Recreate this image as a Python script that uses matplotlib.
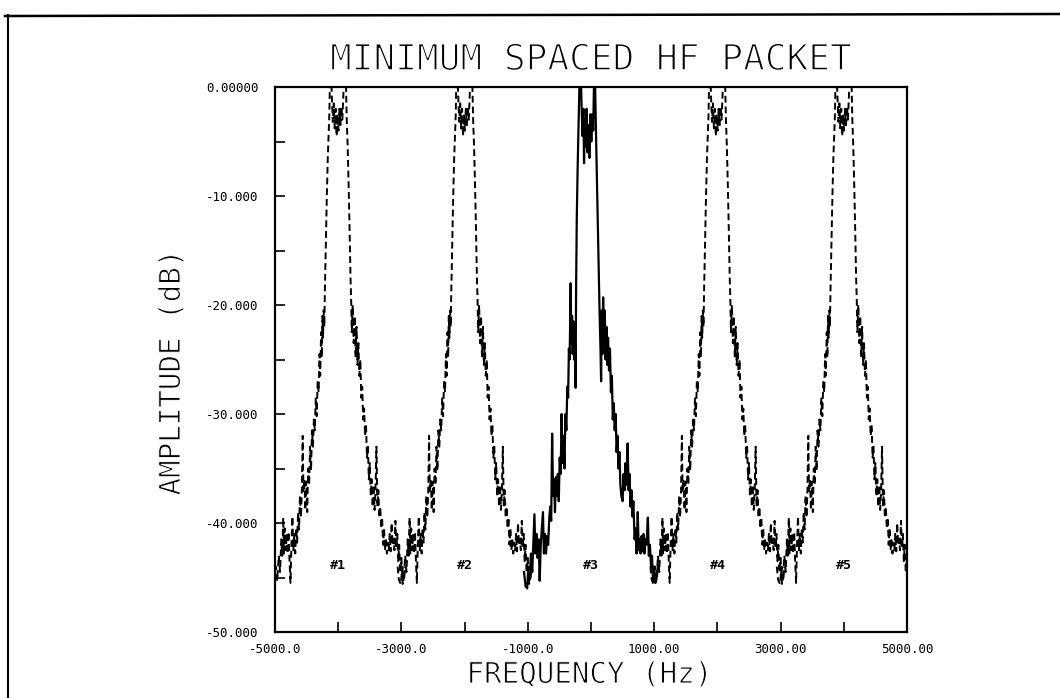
import numpy as np
import matplotlib
matplotlib.use("Agg")
import matplotlib.pyplot as plt
import matplotlib.patheffects as pe
from matplotlib.lines import Line2D

# packet centres (Hz) and their labels; packet #3 is drawn solid
packet_centers = [-4000, -2000, 0, 2000, 4000]
packet_labels = ["#1", "#2", "#3", "#4", "#5"]
solid_index = 2

# spectrum of one dashed packet, offset from its centre (Hz) -> dB
dashed_offset = [-1060, -1040, -1010, -985, -965, -940, -920, -900, -885, -870,
                 -860, -845, -830, -815, -800, -785, -770, -755, -740, -725,
                 -710, -695, -680, -665, -650, -635, -620, -605, -590, -575,
                 -562, -550, -535, -520, -505, -490, -475, -460, -445, -430,
                 -415, -400, -385, -370, -355, -340, -325, -310, -295, -285,
                 -270, -260, -250, -240, -230, -220, -210, -195, -180, -165,
                 -150, -140, -130, -115, -100, -85, -70, -55, -40, -25,
                 -10, 5, 20, 35, 50, 65, 80, 95, 110, 122,
                 135, 150, 165, 180, 195, 205, 215, 230, 245, 260,
                 275, 290, 305, 320, 335, 350, 365, 380, 395, 410,
                 425, 440, 455, 470, 485, 500, 515, 530, 545, 560,
                 575, 590, 605, 620, 635, 650, 665, 680, 695, 710,
                 725, 740, 755, 770, 785, 800, 815, 830, 845, 860,
                 875, 890, 905, 920, 935, 950, 965, 980, 1000, 1020,
                 1045, 1060]
dashed_db = [-44.0, -45.2, -45.6, -44.0, -45.3, -43.0, -44.5, -41.5, -43.0, -39.5,
             -42.8, -40.5, -42.5, -41.0, -42.8, -40.8, -43.5, -45.5, -42.0, -39.4,
             -42.5, -41.0, -42.8, -40.5, -41.8, -39.0, -40.6, -37.5, -39.5, -37.0,
             -32.0, -37.2, -36.0, -38.8, -36.2, -39.0, -35.0, -36.5, -33.0, -35.2,
             -31.5, -33.0, -30.5, -31.5, -28.5, -30.2, -27.0, -28.0, -24.5, -26.5,
             -22.5, -24.8, -21.0, -23.0, -20.5, -22.0, -18.5, -14.0, -10.0, -6.5,
             -4.0, -2.5, 1.0, 2.0, -1.0, -3.2, -1.5, -3.8, -2.0, -4.5,
             -2.5, -4.0, -2.0, -3.5, -1.8, -3.0, -1.0, 1.5, 2.0, 0.5,
             -3.0, -5.5, -9.0, -13.0, -17.5, -19.5, -22.5, -20.0, -23.5, -21.0,
             -24.8, -22.0, -25.5, -23.5, -26.5, -25.0, -28.5, -27.5, -30.5, -29.5,
             -32.0, -31.0, -34.0, -33.0, -36.0, -34.5, -37.5, -36.0, -38.5, -36.5,
             -38.8, -37.0, -33.0, -38.5, -37.0, -39.5, -38.5, -40.5, -39.5, -42.0,
             -40.5, -42.5, -41.5, -42.8, -41.8, -42.5, -41.0, -42.6, -40.0, -42.0,
             -41.5, -42.5, -39.8, -42.3, -41.0, -43.5, -42.0, -44.5, -43.2, -45.6,
             -45.0, -44.0]

# measured packet (solid), frequency (Hz) -> dB
solid_freq = [-1060, -1035, -1010, -990, -970, -950, -930, -912, -895, -880,
              -862, -845, -828, -812, -795, -778, -760, -745, -728, -712,
              -695, -678, -660, -645, -630, -615, -600, -585, -570, -555,
              -540, -525, -510, -495, -480, -465, -450, -435, -420, -405,
              -390, -375, -362, -350, -338, -322, -312, -300, -290, -278,
              -268, -255, -245, -235, -225, -210, -195, -180, -165, -150,
              -135, -120, -110, -100, -85, -70, -55, -40, -25, -10,
              5, 20, 35, 48, 60, 75, 95, 115, 135, 150,
              160, 170, 180, 192, 205, 218, 230, 245, 258, 270,
              285, 300, 315, 330, 345, 360, 375, 390, 405, 420,
              435, 450, 465, 480, 500, 515, 530, 545, 565, 580,
              595, 610, 625, 640, 655, 670, 690, 705, 720, 740,
              755, 770, 785, 800, 815, 830, 845, 860, 878, 900,
              915, 932, 950, 965, 982, 1000, 1020, 1045, 1060]
solid_db = [-44.5, -45.8, -46.0, -44.0, -45.2, -42.8, -44.5, -41.8, -39.2, -42.8,
            -41.0, -43.2, -41.5, -45.3, -42.0, -40.5, -39.0, -42.8, -41.0, -42.8,
            -41.2, -42.0, -39.5, -38.5, -39.8, -31.8, -37.5, -36.0, -39.0, -35.8,
            -37.5, -35.5, -38.0, -34.0, -35.5, -30.0, -34.5, -32.0, -35.0, -30.0,
            -31.5, -27.5, -28.5, -24.0, -25.0, -18.0, -23.5, -21.0, -24.5, -21.5,
            -25.0, -23.0, -27.6, -18.0, -12.0, -7.0, -3.0, 1.0, 2.0, -1.5,
            -4.5, -2.0, -7.0, -3.0, -5.5, -2.0, -6.0, -3.5, -6.5, -2.5,
            -5.0, -2.5, -4.0, 0.5, 2.0, -3.0, -9.0, -15.0, -20.5, -24.0,
            -27.0, -20.5, -24.5, -19.3, -23.5, -20.5, -25.0, -22.0, -25.5, -23.0,
            -26.0, -24.0, -28.0, -26.5, -30.5, -29.0, -31.5, -30.0, -33.5, -32.0,
            -35.0, -33.5, -36.5, -37.5, -38.0, -35.5, -37.0, -34.5, -36.5, -32.7,
            -37.0, -35.5, -38.5, -37.0, -39.4, -38.0, -41.5, -40.5, -42.8, -39.0,
            -42.5, -41.5, -42.8, -41.2, -42.6, -41.0, -42.8, -41.5, -42.0, -39.5,
            -43.0, -42.0, -44.0, -43.0, -45.4, -44.0, -45.5, -44.8, -44.0]

xtick_vals = list(range(-5000, 5001, 1000))
xtick_text = ["-5000.0", "", "-3000.0", "", "-1000.0", "", "1000.00", "", "3000.00", "", "5000.00"]
ytick_vals = list(range(0, -51, -5))
ytick_text = ["0.00000", "", "-10.000", "", "-20.000", "", "-30.000", "", "-40.000", "", "-50.000"]

mono = "DejaVu Sans Mono"
# white outline eats into the glyphs so they look like thin plotter strokes
thin_title = [pe.Stroke(linewidth=1.1, foreground="white")]
thin_label = [pe.Stroke(linewidth=0.7, foreground="white")]

fig = plt.figure(figsize=(10.6, 6.98), dpi=100)
ax = fig.add_axes([275 / 1060, 66 / 698, 632 / 1060, 545 / 698])

for i, c in enumerate(packet_centers):
    if i == solid_index:
        continue
    ax.plot(np.array(dashed_offset) + c, dashed_db, color="black",
            lw=1.4, ls=(0, (3.5, 2)))
ax.plot(np.array(solid_freq) + packet_centers[solid_index], solid_db,
        color="black", lw=1.6)

for c, lab in zip(packet_centers, packet_labels):
    ax.text(c, -43.9, lab, ha="center", va="center", fontsize=9.5,
            family=mono, fontweight="bold")

ax.set_xlim(-5000, 5000)
ax.set_ylim(-50, 0)
ax.set_xticks(xtick_vals)
ax.set_xticklabels(xtick_text)
ax.set_yticks(ytick_vals)
ax.set_yticklabels(ytick_text)
ax.tick_params(direction="in", length=7, width=1.2, labelsize=9)
ax.tick_params(axis="y", pad=12)
ax.tick_params(axis="x", pad=8)
for lab in ax.get_xticklabels() + ax.get_yticklabels():
    lab.set_family(mono)
for sp in ax.spines.values():
    sp.set_linewidth(1.6)

fig.text(591 / 1060, 1 - 60 / 698, "MINIMUM SPACED HF PACKET", ha="center",
         va="center", fontsize=26, family=mono, path_effects=thin_title)
fig.text(172 / 1060, 1 - 373 / 698, "AMPLITUDE (dB)", ha="center",
         va="center", rotation=90, fontsize=21, family=mono,
         path_effects=thin_label)
fig.text(589 / 1060, 1 - 675 / 698, "FREQUENCY (Hz)", ha="center",
         va="center", fontsize=21, family=mono, path_effects=thin_label)

# outer page frame (left and top edges of the scan)
fig.add_artist(Line2D([8 / 1060, 8 / 1060], [0, 1 - 15 / 698],
                      color="black", lw=1.5))
fig.add_artist(Line2D([5 / 1060, 1], [1 - 16 / 698, 1 - 14 / 698],
                      color="black", lw=1.8))

fig.savefig("out.png", dpi=100)
